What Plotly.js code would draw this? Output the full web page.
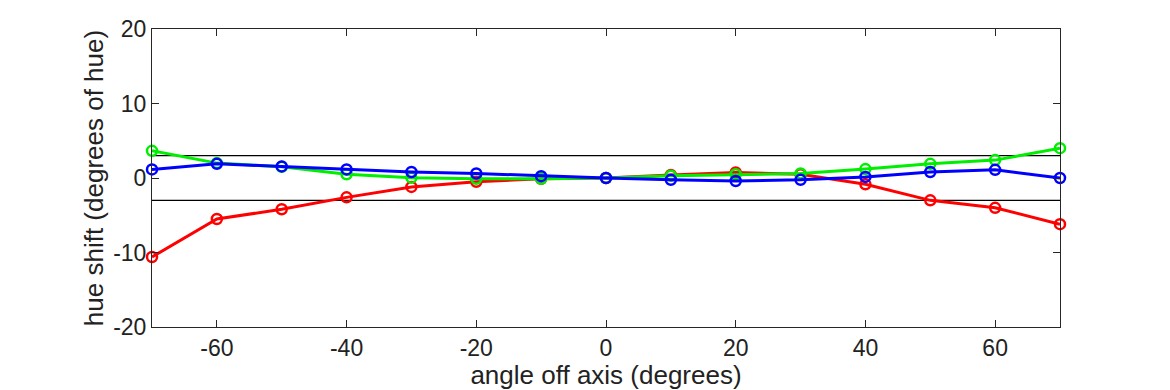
<!DOCTYPE html>
<html>
<head>
<meta charset="utf-8">
<script src="https://cdn.plot.ly/plotly-3.0.1.min.js"></script>
<style>html,body{margin:0;padding:0;background:#fff;}#chart{width:1170px;height:390px;}</style>
</head>
<body>
<div id="chart"></div>
<script>
var angles = [-70, -60, -50, -40, -30, -20, -10, 0, 10, 20, 30, 40, 50, 60, 70];
var redShift   = [-10.6, -5.5, -4.2, -2.6, -1.2, -0.5, -0.1, 0, 0.4, 0.75, 0.5, -0.85, -3.0, -4.0, -6.2];
var greenShift = [3.65, 2.0, 1.5, 0.5, 0.05, -0.1, -0.1, 0, 0.3, 0.5, 0.6, 1.2, 1.9, 2.4, 4.0];
var blueShift  = [1.15, 1.9, 1.55, 1.15, 0.8, 0.6, 0.25, 0, -0.25, -0.4, -0.25, 0.15, 0.8, 1.1, 0.0];
var toleranceBand = [-3, 3];
var xTickVals = [-60, -40, -20, 0, 20, 40, 60];
var xTickText = ["-60", "-40", "-20", "0", "20", "40", "60"];
var yTickVals = [-20, -10, 0, 10, 20];
var yTickText = ["-20", "-10", "0", "10", "20"];

function series(y, color) {
  return {
    x: angles, y: y, type: 'scatter', mode: 'lines+markers', cliponaxis: false,
    line: {color: color, width: 3},
    marker: {symbol: 'circle-open', size: 10, color: color, line: {width: 2.5, color: color}},
    showlegend: false, hoverinfo: 'none'
  };
}

var traces = [series(redShift, '#ff0000'), series(greenShift, '#00ee00'), series(blueShift, '#0000ff')];
var shapes = toleranceBand.map(function (v) {
  return {type: 'line', xref: 'x', yref: 'y', x0: angles[0], x1: angles[angles.length - 1], y0: v, y1: v,
          line: {color: '#000', width: 1.2}, layer: 'below'};
});

var fam = 'Liberation Sans, Arial, sans-serif';
var layout = {
  width: 1170, height: 390,
  margin: {l: 152, r: 110, t: 29, b: 63},
  paper_bgcolor: '#fff', plot_bgcolor: '#fff',
  showlegend: false,
  shapes: shapes,
  xaxis: {
    range: [-70, 70], tickvals: xTickVals, ticktext: xTickText,
    ticks: 'inside', ticklen: 7, tickwidth: 1, tickcolor: '#262626',
    showline: true, linecolor: '#262626', linewidth: 1, mirror: 'ticks',
    showgrid: false, zeroline: false,
    tickfont: {family: fam, color: '#222', size: 23},
    title: {text: 'angle off axis (degrees)', font: {family: fam, color: '#222', size: 26}, standoff: 4}
  },
  yaxis: {
    range: [-20, 20], tickvals: yTickVals, ticktext: yTickText,
    ticks: 'inside', ticklen: 7, tickwidth: 1, tickcolor: '#262626',
    showline: true, linecolor: '#262626', linewidth: 1, mirror: 'ticks',
    showgrid: false, zeroline: false,
    tickfont: {family: fam, color: '#222', size: 23},
    title: {text: 'hue shift (degrees of hue)', font: {family: fam, color: '#222', size: 26}, standoff: 2}
  }
};

Plotly.newPlot('chart', traces, layout, {displayModeBar: false, staticPlot: true});
</script>
</body>
</html>
